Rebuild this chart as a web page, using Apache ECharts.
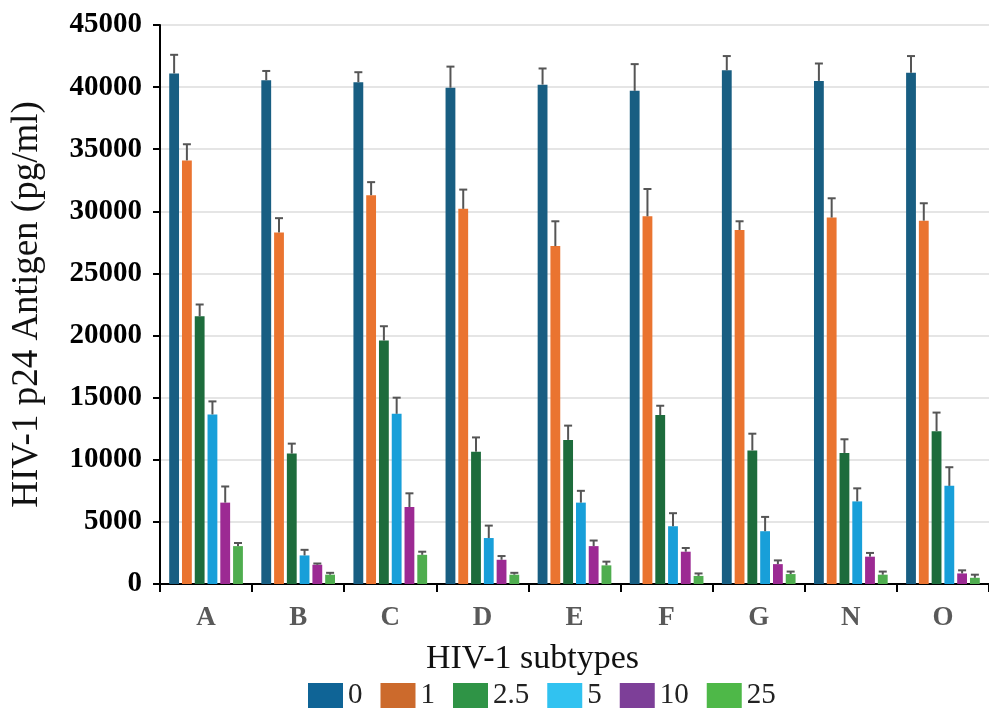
<!DOCTYPE html>
<html>
<head>
<meta charset="utf-8">
<script src="https://cdn.jsdelivr.net/npm/echarts@6/dist/echarts.min.js"></script>
<style>
  html, body { margin: 0; padding: 0; background: #fff; }
  #chart { width: 989px; height: 715px; }
</style>
</head>
<body>
<div id="chart"></div>
<script>
const subtypes = ['A', 'B', 'C', 'D', 'E', 'F', 'G', 'N', 'O']
const doses = ['0', '1', '2.5', '5', '10', '25']

// mean p24 per dose, one array per dose, in subtype order
const dose0 = [41100, 40550, 40400, 39950, 40200, 39700, 41350, 40500, 41150]
const dose1 = [34100, 28300, 31300, 30200, 27200, 29600, 28500, 29500, 29250]
const dose2_5 = [21550, 10500, 19600, 10650, 11600, 13600, 10750, 10550, 12300]
const dose5 = [13650, 2300, 13700, 3700, 6550, 4650, 4250, 6650, 7900]
const dose10 = [6550, 1550, 6200, 1950, 3050, 2600, 1600, 2200, 850]
const dose25 = [3050, 750, 2350, 750, 1500, 650, 800, 750, 500]

// upper error (sd) per dose
const err0 = [1500, 750, 800, 1700, 1300, 2150, 1150, 1400, 1350]
const err1 = [1300, 1150, 1050, 1550, 2000, 2200, 700, 1550, 1400]
const err2_5 = [950, 800, 1150, 1150, 1150, 750, 1350, 1100, 1500]
const err5 = [1050, 450, 1300, 1000, 950, 1050, 1150, 1050, 1500]
const err10 = [1300, 100, 1100, 300, 450, 300, 300, 300, 250]
const err25 = [250, 150, 250, 150, 300, 200, 200, 250, 250]

const values = [dose0, dose1, dose2_5, dose5, dose10, dose25]
const errors = [err0, err1, err2_5, err5, err10, err25]

const barColors = ['#185e82', '#ea7430', '#1d6c3c', '#189fd9', '#9c2a93', '#4fad4f']
const legendColors = ['#0f6496', '#cc6a2c', '#2f9446', '#31c2f0', '#7d3f98', '#4eb848']

const catGap = 0.2
const barGap = 0.3

const errData = []
values.forEach((arr, si) => {
  arr.forEach((v, ci) => errData.push([ci, si, v, errors[si][ci]]))
})

function renderErr(params, api) {
  const ci = api.value(0)
  const si = api.value(1)
  const v = api.value(2)
  const e = api.value(3)
  const band = api.size([1, 0])[0]
  const n = doses.length
  const w = band * (1 - catGap) / (n + (n - 1) * barGap)
  const total = n * w + (n - 1) * w * barGap
  const base = api.coord([ci, v])
  const top = api.coord([ci, v + e])
  const x = base[0] - total / 2 + si * w * (1 + barGap) + w / 2
  const style = { stroke: '#555555', lineWidth: 2 }
  return {
    type: 'group',
    children: [
      { type: 'line', shape: { x1: x, y1: base[1], x2: x, y2: top[1] }, style },
      { type: 'line', shape: { x1: x - 4, y1: top[1], x2: x + 4, y2: top[1] }, style }
    ]
  }
}

const chart = echarts.init(document.getElementById('chart'))

const series = doses.map((d, i) => ({
  name: d,
  type: 'bar',
  data: values[i],
  barGap: (barGap * 100) + '%',
  barCategoryGap: (catGap * 100) + '%',
  itemStyle: { color: barColors[i] },
  z: 2
}))

series.push({
  type: 'custom',
  renderItem: renderErr,
  data: errData,
  encode: { x: 0, y: 2 },
  z: 3,
  silent: true
})

chart.setOption({
  animation: false,
  backgroundColor: '#ffffff',
  grid: { left: 160, right: -9, top: 25, bottom: 131 },
  legend: {
    bottom: 0,
    left: 303,
    itemWidth: 35,
    itemHeight: 25,
    itemGap: 18,
    icon: 'rect',
    textStyle: { fontFamily: 'Liberation Serif', fontSize: 29, color: '#222' },
    data: doses.map((d, i) => ({ name: d, itemStyle: { color: legendColors[i] } }))
  },
  xAxis: {
    type: 'category',
    data: subtypes,
    name: 'HIV-1 subtypes',
    nameLocation: 'middle',
    nameGap: 58,
    nameTextStyle: {
      fontFamily: 'Liberation Serif', fontSize: 34, color: '#111',
      padding: [0, 84, 0, 0]
    },
    axisLine: { lineStyle: { color: '#000', width: 2 } },
    axisTick: { show: true, length: 8, lineStyle: { color: '#000', width: 2 } },
    axisLabel: {
      margin: 21,
      fontFamily: 'Liberation Serif',
      fontWeight: 'bold',
      fontSize: 27,
      color: '#595959'
    }
  },
  yAxis: {
    type: 'value',
    min: 0,
    max: 45000,
    interval: 5000,
    name: 'HIV-1 p24 Antigen (pg/ml)',
    nameLocation: 'middle',
    nameGap: 114,
    nameTextStyle: { fontFamily: 'Liberation Serif', fontSize: 37, color: '#111' },
    axisLine: { show: true, lineStyle: { color: '#000', width: 2 } },
    axisTick: { show: true, length: 7, lineStyle: { color: '#000', width: 2 } },
    axisLabel: {
      margin: 18,
      formatter: v => String(v),
      fontFamily: 'Liberation Serif',
      fontWeight: 'bold',
      fontSize: 29,
      color: '#000'
    },
    splitLine: { lineStyle: { color: '#dcdcdc', width: 1.5 } }
  },
  series
})
</script>
</body>
</html>
